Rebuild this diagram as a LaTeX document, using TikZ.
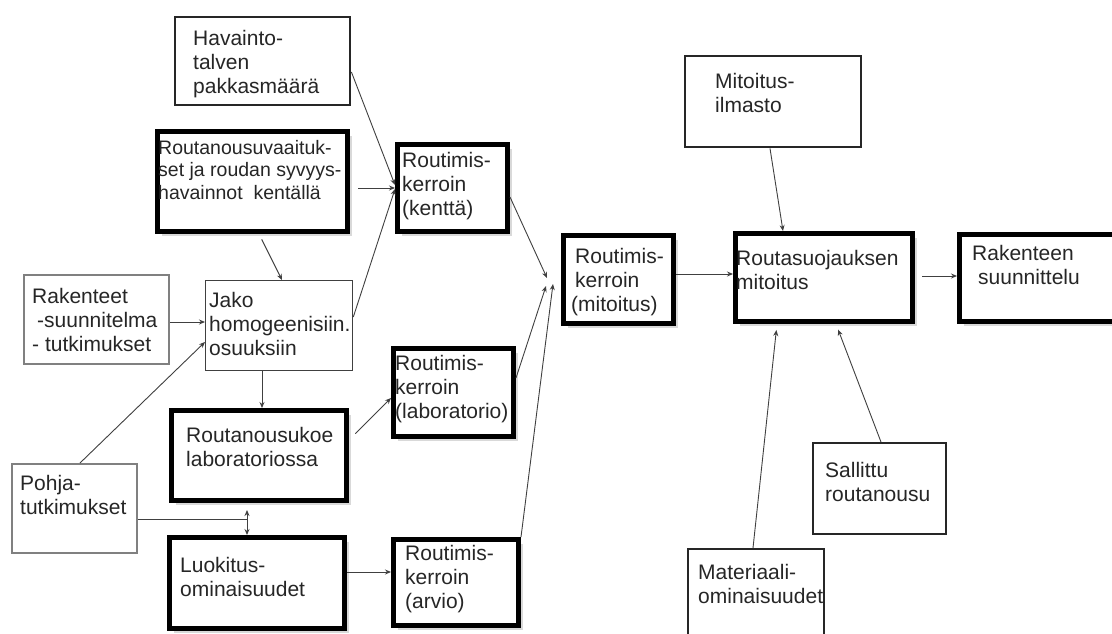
\documentclass[tikz,border=0pt]{standalone}
\usepackage{fontspec}
\setmainfont{Liberation Sans}
\usetikzlibrary{arrows.meta,shadows}
\begin{document}
\begin{tikzpicture}[x=1pt,y=-1pt,
  thickbox/.style={draw=black,line width=5pt,fill=white,anchor=north west,inner sep=0pt,
    drop shadow={shadow xshift=4pt,shadow yshift=-4pt,opacity=0.15,fill=black}},
  medbox/.style={draw=black!85,line width=2.4pt,fill=white,anchor=north west,inner sep=0pt},
  thinbox/.style={draw=black!75,line width=1.3pt,fill=white,anchor=north west,inner sep=0pt},
  graybox/.style={draw=black!50,line width=2.2pt,fill=white,anchor=north west,inner sep=0pt},
  txt/.style={anchor=base west,align=left,inner sep=0pt,text=black!85,
    font=\fontsize{21}{24}\selectfont},
  smalltxt/.style={txt,font=\fontsize{19.5}{22.5}\selectfont},
  conn/.style={draw=black!75,line width=0.9pt,-{Stealth[length=6pt,width=5pt]}},
  dconn/.style={draw=black!75,line width=0.9pt,{Stealth[length=6pt,width=5pt]}-{Stealth[length=6pt,width=5pt]}},
  plain/.style={draw=black!75,line width=0.9pt}]
\useasboundingbox (0,0) rectangle (1112,633);
\fill[white] (0,0) rectangle (1112,633);
\clip (0,0) rectangle (1112,633);

% boxes
\node[medbox,minimum width=175,minimum height=88] (hav) at (174,16) {};
\node[thickbox,minimum width=190,minimum height=100] (rvs) at (155,129) {};
\node[thickbox,minimum width=110,minimum height=87] (ken) at (395,142) {};
\node[graybox,minimum width=145,minimum height=89] (rak) at (23,274) {};
\node[thinbox,minimum width=147,minimum height=90] (jako) at (205,280) {};
\node[thickbox,minimum width=120,minimum height=88] (lab) at (391,346) {};
\node[thickbox,minimum width=175,minimum height=90] (koe) at (169,408) {};
\node[graybox,minimum width=125,minimum height=89] (pohja) at (11,463) {};
\node[thickbox,minimum width=175,minimum height=91] (luo) at (167,535) {};
\node[thickbox,minimum width=125,minimum height=86] (arv) at (391,537) {};
\node[thickbox,minimum width=110,minimum height=88] (mit) at (561,233) {};
\node[medbox,minimum width=176,minimum height=91] (ilm) at (684,55) {};
\node[thickbox,minimum width=177,minimum height=88] (rsu) at (733,231) {};
\node[thickbox,minimum width=168,minimum height=87] (rsn) at (957,232) {};
\node[medbox,minimum width=133,minimum height=91] (sal) at (812,442) {};
\node[medbox,minimum width=136,minimum height=102] (mat) at (687,548) {};

% texts (anchored at the baseline of the last line)
\node[txt] (thav) at (193,93) {Havainto-\\talven\\pakkasmäärä};
\node[smalltxt] (trvs) at (158,199) {Routanousuvaaituk-\\set ja roudan syvyys-\\havainnot\ \ kentällä};
\node[txt] (tken) at (402,215) {Routimis-\\kerroin\\(kenttä)};
\node[txt] (trak) at (32,351) {Rakenteet\\\hspace{5pt}-suunnitelma\\- tutkimukset};
\node[txt] (tjako) at (209,355) {Jako\\homogeenisiin.\\osuuksiin};
\node[txt] (tlab) at (395,418) {Routimis-\\kerroin\\(laboratorio)};
\node[txt] (tkoe) at (186,466) {Routanousukoe\\laboratoriossa};
\node[txt] (tpohja) at (20,514) {Pohja-\\tutkimukset};
\node[txt] (tluo) at (180,596) {Luokitus-\\ominaisuudet};
\node[txt] (tarv) at (405,608) {Routimis-\\kerroin\\(arvio)};
\node[txt] (tmit) at (571,311) {\hspace{4pt}Routimis-\\\hspace{4pt}kerroin\\(mitoitus)};
\node[txt] (tilm) at (715,112) {Mitoitus-\\ilmasto};
\node[txt] (trsu) at (736,289) {Routasuojauksen\\mitoitus};
\node[txt] (trsn) at (972,284) {Rakenteen\\\hspace{6pt}suunnittelu};
\node[txt] (tsal) at (825,501) {Sallittu\\routanousu};
\node[txt] (tmat) at (698,603) {Materiaali-\\ominaisuudet};

% free ends
\coordinate (m1) at (547,278);
\coordinate (m2) at (546,286);
\coordinate (m3) at (553,284);
\coordinate (j) at (247,519);

% connectors
\draw[conn] (hav.east |- 0,72) -- (ken.west |- 0,185);
\draw[conn,shorten <=8pt] (rvs.east |- 0,188) -- (ken.west |- 0,188);
\draw[conn] (jako.east |- 0,317) -- (ken.west |- 0,189);
\draw[conn,shorten <=6pt] (rvs.south -| 259,0) -- (jako.north -| 282,0);
\draw[conn] (rak.east |- 0,322) -- (jako.west |- 0,322);
\draw[conn] (pohja.north -| 80,0) -- (jako.west |- 0,342);
\draw[conn] (jako.south -| 262,0) -- (koe.north -| 262,0);
\draw[conn,shorten <=9pt] (koe.east |- 0,440) -- (lab.west |- 0,398);
\draw[plain] (pohja.east |- j) -- (j);
\draw[dconn,shorten <=7pt] (koe.south -| j) -- (luo.north -| j);
\draw[conn] (luo.east |- 0,572) -- (arv.west |- 0,572);
\draw[conn] (ken.east |- 0,197) -- (m1);
\draw[conn] (lab.east |- 0,378) -- (m2);
\draw[conn] (arv.north east) -- (m3);
\draw[conn] (mit.east |- 0,274) -- (rsu.west |- 0,274);
\draw[conn] (ilm.south -| 770,0) -- (rsu.north -| 783,0);
\draw[conn,shorten <=7pt] (rsu.east |- 0,276) -- (rsn.west |- 0,276);
\draw[conn,shorten >=6pt] (mat.north -| 753,0) -- (rsu.south -| 777,0);
\draw[conn,shorten >=6pt] (sal.north -| 881,0) -- (rsu.south -| 836,0);
\end{tikzpicture}
\end{document}
